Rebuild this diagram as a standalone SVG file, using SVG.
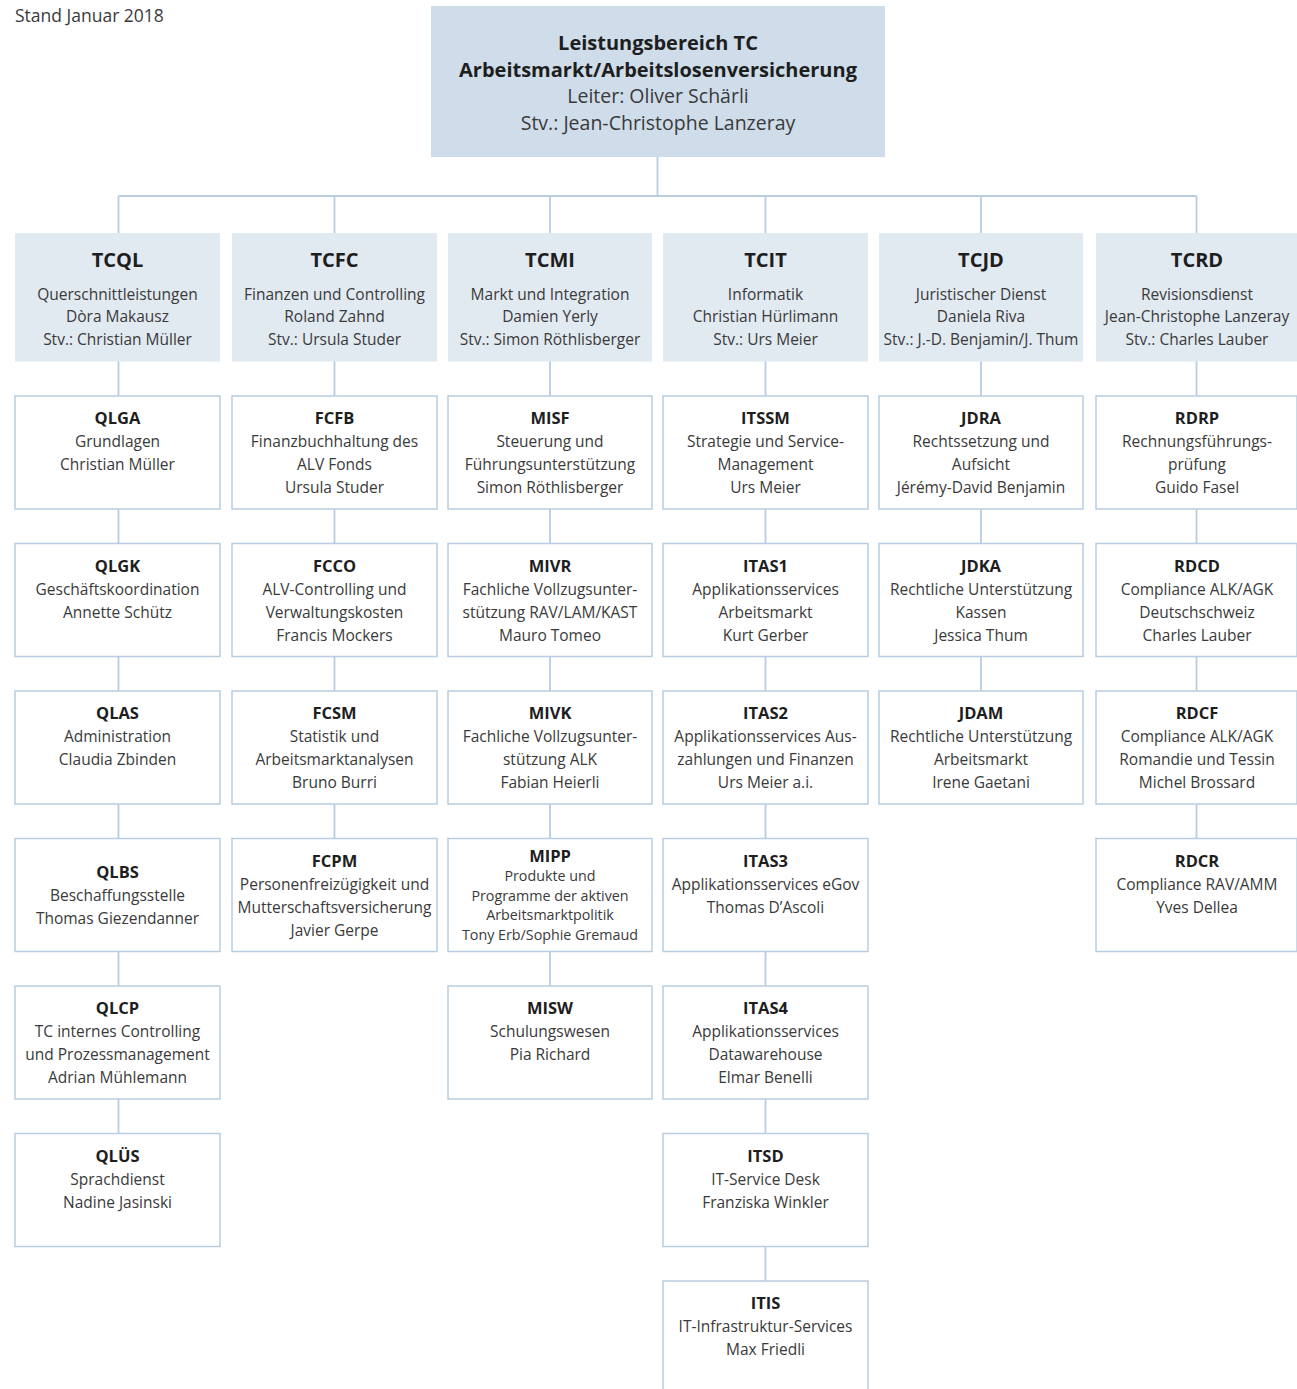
<svg xmlns="http://www.w3.org/2000/svg" width="1297" height="1389" viewBox="0 0 1297 1389">
<style>
text{font-family:"Open Sans","Noto Sans","Liberation Sans",sans-serif;text-anchor:middle;fill:#3a3a3a}
.h{font-weight:bold;font-size:16.5px;fill:#1e1e1e}
.t{font-size:15.5px}
.s{font-size:14.3px}
.h2{font-weight:bold;font-size:20px;fill:#1e1e1e}
.h1{font-weight:bold;font-size:20px;fill:#1e1e1e}
.t1{font-size:19.5px}
.top{fill:#cfdce9}
.dep{fill:#e1e9f1}
.box{fill:#fff;stroke:#b8cde1;stroke-width:1.5}
.c{stroke:#b8cde1;stroke-width:1.8;fill:none}
</style>
<text x="15" y="22" style="font-size:17.5px;text-anchor:start">Stand Januar 2018</text>
<g id="connectors">
<path class="c" d="M657.5 157V196M118.5 196H1196.5M118.5 196V1133.5M334.5 196V838.5M550 196V986M765.5 196V1281M981 196V691M1196.5 196V838.5"/>
</g>
<g id="TC">
<rect class="top" x="431" y="6" width="454" height="151"/>
<text class="h1" x="658" y="50">Leistungsbereich TC</text>
<text class="h1" x="658" y="77">Arbeitsmarkt/Arbeitslosenversicherung</text>
<text class="t1" x="658" y="103">Leiter: Oliver Schärli</text>
<text class="t1" x="658" y="130">Stv.: Jean-Christophe Lanzeray</text>
</g>
<g id="TCQL">
<rect class="dep" x="15" y="233" width="205" height="128.5"/>
<text class="h2" x="117.5" y="267">TCQL</text>
<text class="t" x="117.5" y="299.5">Querschnittleistungen</text>
<text class="t" x="117.5" y="322">Dòra Makausz</text>
<text class="t" x="117.5" y="344.5">Stv.: Christian Müller</text>
</g>
<g id="TCFC">
<rect class="dep" x="232" y="233" width="205" height="128.5"/>
<text class="h2" x="334.5" y="267">TCFC</text>
<text class="t" x="334.5" y="299.5">Finanzen und Controlling</text>
<text class="t" x="334.5" y="322">Roland Zahnd</text>
<text class="t" x="334.5" y="344.5">Stv.: Ursula Studer</text>
</g>
<g id="TCMI">
<rect class="dep" x="448" y="233" width="204" height="128.5"/>
<text class="h2" x="550" y="267">TCMI</text>
<text class="t" x="550" y="299.5">Markt und Integration</text>
<text class="t" x="550" y="322">Damien Yerly</text>
<text class="t" x="550" y="344.5">Stv.: Simon Röthlisberger</text>
</g>
<g id="TCIT">
<rect class="dep" x="663" y="233" width="205" height="128.5"/>
<text class="h2" x="765.5" y="267">TCIT</text>
<text class="t" x="765.5" y="299.5">Informatik</text>
<text class="t" x="765.5" y="322">Christian Hürlimann</text>
<text class="t" x="765.5" y="344.5">Stv.: Urs Meier</text>
</g>
<g id="TCJD">
<rect class="dep" x="879" y="233" width="204" height="128.5"/>
<text class="h2" x="981" y="267">TCJD</text>
<text class="t" x="981" y="299.5">Juristischer Dienst</text>
<text class="t" x="981" y="322">Daniela Riva</text>
<text class="t" x="981" y="344.5">Stv.: J.-D. Benjamin/J. Thum</text>
</g>
<g id="TCRD">
<rect class="dep" x="1096" y="233" width="201" height="128.5"/>
<text class="h2" x="1197" y="267">TCRD</text>
<text class="t" x="1197" y="299.5">Revisionsdienst</text>
<text class="t" x="1197" y="322">Jean-Christophe Lanzeray</text>
<text class="t" x="1197" y="344.5">Stv.: Charles Lauber</text>
</g>

<g id="QLGA"><rect class="box" x="15" y="396" width="205" height="113"/>
<text class="h" x="117.5" y="424">QLGA</text><text class="t" x="117.5" y="447">Grundlagen</text><text class="t" x="117.5" y="470">Christian Müller</text></g>
<g id="QLGK"><rect class="box" x="15" y="543.5" width="205" height="113"/>
<text class="h" x="117.5" y="571.5">QLGK</text><text class="t" x="117.5" y="594.5">Geschäftskoordination</text><text class="t" x="117.5" y="617.5">Annette Schütz</text></g>
<g id="QLAS"><rect class="box" x="15" y="691" width="205" height="113"/>
<text class="h" x="117.5" y="719">QLAS</text><text class="t" x="117.5" y="742">Administration</text><text class="t" x="117.5" y="765">Claudia Zbinden</text></g>
<g id="QLBS"><rect class="box" x="15" y="838.5" width="205" height="113"/>
<text class="h" x="117.5" y="878">QLBS</text><text class="t" x="117.5" y="901">Beschaffungsstelle</text><text class="t" x="117.5" y="924">Thomas Giezendanner</text></g>
<g id="QLCP"><rect class="box" x="15" y="986" width="205" height="113"/>
<text class="h" x="117.5" y="1014">QLCP</text><text class="t" x="117.5" y="1037">TC internes Controlling</text><text class="t" x="117.5" y="1060">und Prozessmanagement</text><text class="t" x="117.5" y="1083">Adrian Mühlemann</text></g>
<g id="QLUES"><rect class="box" x="15" y="1133.5" width="205" height="113"/>
<text class="h" x="117.5" y="1161.5">QLÜS</text><text class="t" x="117.5" y="1184.5">Sprachdienst</text><text class="t" x="117.5" y="1207.5">Nadine Jasinski</text></g>

<g id="FCFB"><rect class="box" x="232" y="396" width="205" height="113"/>
<text class="h" x="334.5" y="424">FCFB</text><text class="t" x="334.5" y="447">Finanzbuchhaltung des</text><text class="t" x="334.5" y="470">ALV Fonds</text><text class="t" x="334.5" y="493">Ursula Studer</text></g>
<g id="FCCO"><rect class="box" x="232" y="543.5" width="205" height="113"/>
<text class="h" x="334.5" y="571.5">FCCO</text><text class="t" x="334.5" y="594.5">ALV-Controlling und</text><text class="t" x="334.5" y="617.5">Verwaltungskosten</text><text class="t" x="334.5" y="640.5">Francis Mockers</text></g>
<g id="FCSM"><rect class="box" x="232" y="691" width="205" height="113"/>
<text class="h" x="334.5" y="719">FCSM</text><text class="t" x="334.5" y="742">Statistik und</text><text class="t" x="334.5" y="765">Arbeitsmarktanalysen</text><text class="t" x="334.5" y="788">Bruno Burri</text></g>
<g id="FCPM"><rect class="box" x="232" y="838.5" width="205" height="113"/>
<text class="h" x="334.5" y="866.5">FCPM</text><text class="t" x="334.5" y="889.5">Personenfreizügigkeit und</text><text class="t" x="334.5" y="912.5">Mutterschaftsversicherung</text><text class="t" x="334.5" y="935.5">Javier Gerpe</text></g>

<g id="MISF"><rect class="box" x="448" y="396" width="204" height="113"/>
<text class="h" x="550" y="424">MISF</text><text class="t" x="550" y="447">Steuerung und</text><text class="t" x="550" y="470">Führungsunterstützung</text><text class="t" x="550" y="493">Simon Röthlisberger</text></g>
<g id="MIVR"><rect class="box" x="448" y="543.5" width="204" height="113"/>
<text class="h" x="550" y="571.5">MIVR</text><text class="t" x="550" y="594.5">Fachliche Vollzugsunter-</text><text class="t" x="550" y="617.5">stützung RAV/LAM/KAST</text><text class="t" x="550" y="640.5">Mauro Tomeo</text></g>
<g id="MIVK"><rect class="box" x="448" y="691" width="204" height="113"/>
<text class="h" x="550" y="719">MIVK</text><text class="t" x="550" y="742">Fachliche Vollzugsunter-</text><text class="t" x="550" y="765">stützung ALK</text><text class="t" x="550" y="788">Fabian Heierli</text></g>
<g id="MIPP"><rect class="box" x="448" y="838.5" width="204" height="113"/>
<text class="h" x="550" y="862">MIPP</text><text class="s" x="550" y="881">Produkte und</text><text class="s" x="550" y="900.5">Programme der aktiven</text><text class="s" x="550" y="920">Arbeitsmarktpolitik</text><text class="s" x="550" y="939.5">Tony Erb/Sophie Gremaud</text></g>
<g id="MISW"><rect class="box" x="448" y="986" width="204" height="113"/>
<text class="h" x="550" y="1014">MISW</text><text class="t" x="550" y="1037">Schulungswesen</text><text class="t" x="550" y="1060">Pia Richard</text></g>

<g id="ITSSM"><rect class="box" x="663" y="396" width="205" height="113"/>
<text class="h" x="765.5" y="424">ITSSM</text><text class="t" x="765.5" y="447">Strategie und Service-</text><text class="t" x="765.5" y="470">Management</text><text class="t" x="765.5" y="493">Urs Meier</text></g>
<g id="ITAS1"><rect class="box" x="663" y="543.5" width="205" height="113"/>
<text class="h" x="765.5" y="571.5">ITAS1</text><text class="t" x="765.5" y="594.5">Applikationsservices</text><text class="t" x="765.5" y="617.5">Arbeitsmarkt</text><text class="t" x="765.5" y="640.5">Kurt Gerber</text></g>
<g id="ITAS2"><rect class="box" x="663" y="691" width="205" height="113"/>
<text class="h" x="765.5" y="719">ITAS2</text><text class="t" x="765.5" y="742">Applikationsservices Aus-</text><text class="t" x="765.5" y="765">zahlungen und Finanzen</text><text class="t" x="765.5" y="788">Urs Meier a.i.</text></g>
<g id="ITAS3"><rect class="box" x="663" y="838.5" width="205" height="113"/>
<text class="h" x="765.5" y="866.5">ITAS3</text><text class="t" x="765.5" y="889.5">Applikationsservices eGov</text><text class="t" x="765.5" y="912.5">Thomas D’Ascoli</text></g>
<g id="ITAS4"><rect class="box" x="663" y="986" width="205" height="113"/>
<text class="h" x="765.5" y="1014">ITAS4</text><text class="t" x="765.5" y="1037">Applikationsservices</text><text class="t" x="765.5" y="1060">Datawarehouse</text><text class="t" x="765.5" y="1083">Elmar Benelli</text></g>
<g id="ITSD"><rect class="box" x="663" y="1133.5" width="205" height="113"/>
<text class="h" x="765.5" y="1161.5">ITSD</text><text class="t" x="765.5" y="1184.5">IT-Service Desk</text><text class="t" x="765.5" y="1207.5">Franziska Winkler</text></g>
<g id="ITIS"><rect class="box" x="663" y="1281" width="205" height="113"/>
<text class="h" x="765.5" y="1309">ITIS</text><text class="t" x="765.5" y="1332">IT-Infrastruktur-Services</text><text class="t" x="765.5" y="1355">Max Friedli</text></g>

<g id="JDRA"><rect class="box" x="879" y="396" width="204" height="113"/>
<text class="h" x="981" y="424">JDRA</text><text class="t" x="981" y="447">Rechtssetzung und</text><text class="t" x="981" y="470">Aufsicht</text><text class="t" x="981" y="493">Jérémy-David Benjamin</text></g>
<g id="JDKA"><rect class="box" x="879" y="543.5" width="204" height="113"/>
<text class="h" x="981" y="571.5">JDKA</text><text class="t" x="981" y="594.5">Rechtliche Unterstützung</text><text class="t" x="981" y="617.5">Kassen</text><text class="t" x="981" y="640.5">Jessica Thum</text></g>
<g id="JDAM"><rect class="box" x="879" y="691" width="204" height="113"/>
<text class="h" x="981" y="719">JDAM</text><text class="t" x="981" y="742">Rechtliche Unterstützung</text><text class="t" x="981" y="765">Arbeitsmarkt</text><text class="t" x="981" y="788">Irene Gaetani</text></g>

<g id="RDRP"><rect class="box" x="1096" y="396" width="201" height="113"/>
<text class="h" x="1197" y="424">RDRP</text><text class="t" x="1197" y="447">Rechnungsführungs-</text><text class="t" x="1197" y="470">prüfung</text><text class="t" x="1197" y="493">Guido Fasel</text></g>
<g id="RDCD"><rect class="box" x="1096" y="543.5" width="201" height="113"/>
<text class="h" x="1197" y="571.5">RDCD</text><text class="t" x="1197" y="594.5">Compliance ALK/AGK</text><text class="t" x="1197" y="617.5">Deutschschweiz</text><text class="t" x="1197" y="640.5">Charles Lauber</text></g>
<g id="RDCF"><rect class="box" x="1096" y="691" width="201" height="113"/>
<text class="h" x="1197" y="719">RDCF</text><text class="t" x="1197" y="742">Compliance ALK/AGK</text><text class="t" x="1197" y="765">Romandie und Tessin</text><text class="t" x="1197" y="788">Michel Brossard</text></g>
<g id="RDCR"><rect class="box" x="1096" y="838.5" width="201" height="113"/>
<text class="h" x="1197" y="866.5">RDCR</text><text class="t" x="1197" y="889.5">Compliance RAV/AMM</text><text class="t" x="1197" y="912.5">Yves Dellea</text></g>
</svg>
